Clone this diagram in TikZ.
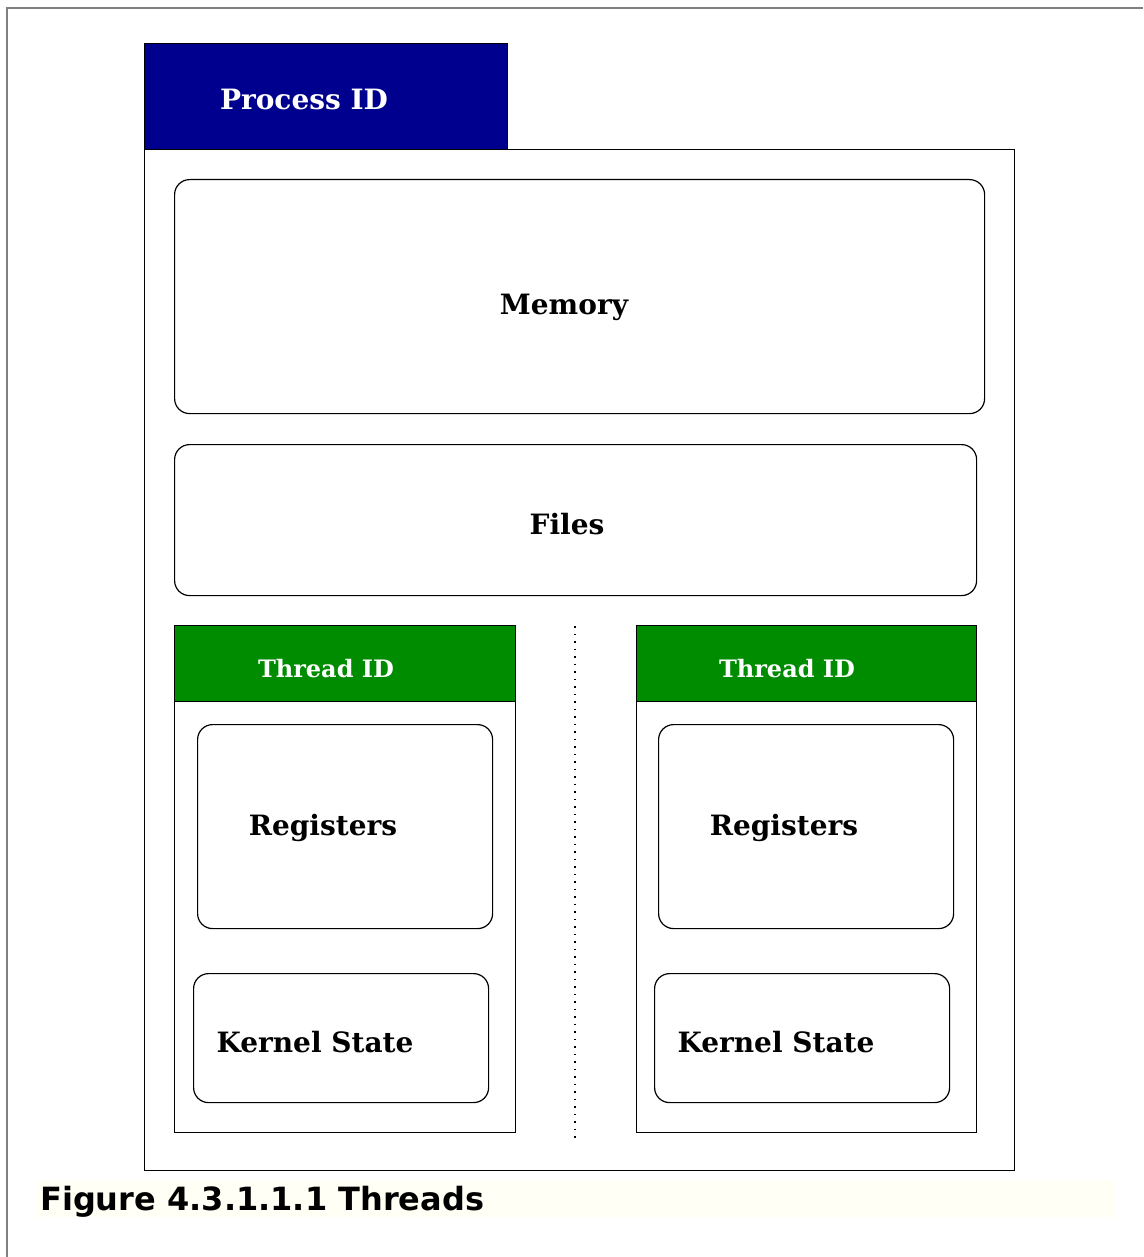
\documentclass[tikz,border=0pt]{standalone}
\usepackage{fontspec}
\setmainfont{DejaVu Serif}
\newfontfamily\capfont{DejaVu Sans}
\definecolor{pidblue}{RGB}{0,0,142}
\definecolor{tidgreen}{RGB}{0,140,0}
\definecolor{frame}{RGB}{128,128,128}
\definecolor{capbg}{RGB}{255,255,246}
\begin{document}
\begin{tikzpicture}[x=1pt,y=-1pt,
  box/.style={draw=black,line width=1.2pt,inner sep=0pt,anchor=north west},
  rbox/.style={box,rounded corners=15pt},
  lbl/.style={font=\bfseries\fontsize{28}{32}\selectfont,anchor=base,inner sep=0pt},
  hlbl/.style={font=\bfseries\fontsize{24}{28}\selectfont,anchor=base,inner sep=0pt,text=white},
]
\useasboundingbox (0,0) rectangle (1143,1257);
\fill[white] (0,0) rectangle (1143,1257);
% outer frame
\draw[frame,line width=2pt] (1143,8) -- (7,8) -- (7,1257);
% caption background
\fill[capbg] (36,1180) rectangle (1115,1217);
% process
\node[box,fill=pidblue,minimum width=363pt,minimum height=106pt] (pid) at (144,43) {};
\node[box,minimum width=870pt,minimum height=1021pt] (proc) at (144,149) {};
\node[hlbl,font=\bfseries\fontsize{28}{32}\selectfont] (pidt) at (304,110) {Process ID};
% memory and files
\node[rbox,minimum width=810pt,minimum height=234pt] (mem) at (174,179) {};
\node[lbl] (memt) at (564,314) {Memory};
\node[rbox,minimum width=802pt,minimum height=151pt] (files) at (174,444) {};
\node[lbl] (filest) at (567,534) {Files};
% left thread
\node[box,minimum width=341pt,minimum height=507pt] (thA) at (174,625) {};
\node[box,fill=tidgreen,minimum width=341pt,minimum height=76pt] (thAh) at (174,625) {};
\node[hlbl] (thAt) at (326,677) {Thread ID};
\node[rbox,minimum width=295pt,minimum height=204pt] (regA) at (197,724) {};
\node[lbl] (regAt) at (323,835) {Registers};
\node[rbox,minimum width=295pt,minimum height=129pt] (ksA) at (193,973) {};
\node[lbl] (ksAt) at (315,1052) {Kernel State};
% right thread
\node[box,minimum width=340pt,minimum height=507pt] (thB) at (636,625) {};
\node[box,fill=tidgreen,minimum width=340pt,minimum height=76pt] (thBh) at (636,625) {};
\node[hlbl] (thBt) at (787,677) {Thread ID};
\node[rbox,minimum width=295pt,minimum height=204pt] (regB) at (658,724) {};
\node[lbl] (regBt) at (784,835) {Registers};
\node[rbox,minimum width=295pt,minimum height=129pt] (ksB) at (654,973) {};
\node[lbl] (ksBt) at (776,1052) {Kernel State};
% separator
\coordinate (sepT) at (575,626);
\coordinate (sepB) at (575,1138);
\draw[line width=1.5pt,dash pattern=on 1.5pt off 6pt] (sepT) -- (sepB);
% caption
\node[font=\capfont\bfseries\fontsize{32}{36}\selectfont,anchor=base west,inner sep=0pt] (cap) at (40,1210) {Figure 4.3.1.1.1 Threads};
\end{tikzpicture}
\end{document}
